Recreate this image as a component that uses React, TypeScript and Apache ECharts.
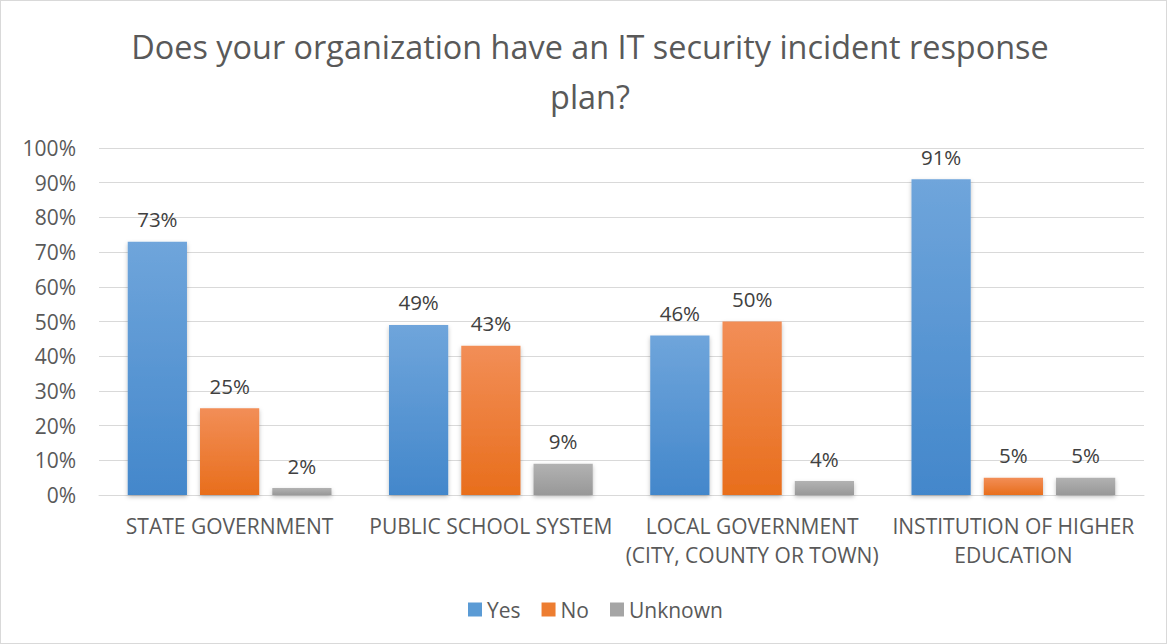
import React, { useEffect, useRef } from "react";
import * as echarts from "echarts";

const categories = [
  "STATE GOVERNMENT",
  "PUBLIC SCHOOL SYSTEM",
  "LOCAL GOVERNMENT\n(CITY, COUNTY OR TOWN)",
  "INSTITUTION OF HIGHER\nEDUCATION",
];
const yesValues = [73, 49, 46, 91];
const noValues = [25, 43, 50, 5];
const unknownValues = [2, 9, 4, 5];
const yTicks = [0, 10, 20, 30, 40, 50, 60, 70, 80, 90, 100];

const FONT = "'Open Sans', 'Noto Sans', sans-serif";

function grad(top: string, bottom: string) {
  return new echarts.graphic.LinearGradient(0, 0, 0, 1, [
    { offset: 0, color: top },
    { offset: 1, color: bottom },
  ]);
}

export default function App() {
  const ref = useRef<HTMLDivElement>(null);
  useEffect(() => {
    if (!ref.current) return;
    const chart = echarts.init(ref.current, undefined, { renderer: "svg" });
    const label = {
      show: true,
      position: "top" as const,
      distance: 12,
      formatter: "{c}%",
      color: "#404040",
      fontSize: 20.5,
      fontFamily: FONT,
    };
    const mk = (name: string, data: number[], top: string, bottom: string) => ({
      name,
      type: "bar",
      data,
      label,
      itemStyle: {
        color: grad(top, bottom),
        shadowColor: "rgba(0,0,0,0.25)",
        shadowBlur: 4,
        shadowOffsetY: 2,
      },
      barGap: "22%",
      barCategoryGap: "22%",
    });
    chart.setOption({
      animation: false,
      backgroundColor: "#ffffff",
      title: {
        text: "Does your organization have an IT security incident response\nplan?",
        left: 584,
        textAlign: "center",
        top: 15,
        textStyle: {
          fontFamily: FONT,
          fontSize: 32.4,
          fontWeight: "normal",
          color: "#595959",
          lineHeight: 50,
        },
      },
      legend: {
        bottom: 18,
        left: 462,
        itemWidth: 14,
        itemHeight: 14,
        itemGap: 21,
        itemTextGap: 5,
        icon: "rect",
        textStyle: { fontFamily: FONT, fontSize: 21, color: "#595959" },
        data: [
          { name: "Yes", itemStyle: { color: "#5B9BD5" } },
          { name: "No", itemStyle: { color: "#ED7D31" } },
          { name: "Unknown", itemStyle: { color: "#A5A5A5" } },
        ],
      },
      grid: { left: 98, right: 22, top: 147, bottom: 148, containLabel: false },
      xAxis: {
        type: "category",
        data: categories,
        axisLine: { lineStyle: { color: "#D9D9D9", width: 1 } },
        axisTick: { show: false },
        axisLabel: {
          fontFamily: FONT,
          fontSize: 21,
          color: "#595959",
          margin: 16,
          lineHeight: 29,
          interval: 0,
        },
      },
      yAxis: {
        type: "value",
        min: 0,
        max: 100,
        interval: 10,
        axisLine: { show: false },
        axisTick: { show: false },
        splitLine: { lineStyle: { color: "#D9D9D9", width: 1 } },
        axisLabel: {
          fontFamily: FONT,
          fontSize: 21,
          color: "#595959",
          margin: 23,
          formatter: (v: number) => (yTicks.includes(v) ? v + "%" : ""),
        },
      },
      series: [
        mk("Yes", yesValues, "#6FA5DB", "#4387CB"),
        mk("No", noValues, "#F28E57", "#E86E1C"),
        mk("Unknown", unknownValues, "#B2B2B2", "#989898"),
      ],
    });
    return () => chart.dispose();
  }, []);
  return (
    <div
      style={{
        position: "absolute",
        left: 0,
        top: 0,
        width: 1167,
        height: 644,
        boxSizing: "border-box",
        border: "1px solid #D9D9D9",
      }}
    >
      <div ref={ref} style={{ width: "100%", height: "100%" }} />
    </div>
  );
}
